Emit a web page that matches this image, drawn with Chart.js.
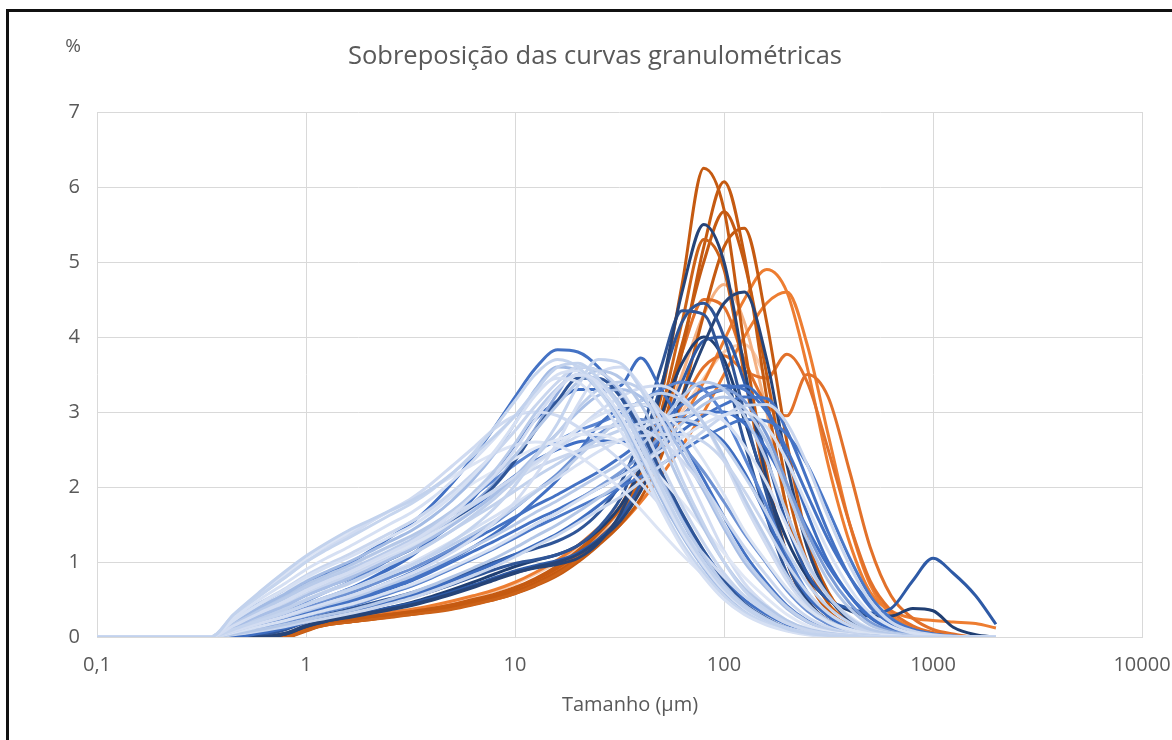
<!DOCTYPE html>
<html>
<head>
<meta charset="utf-8">
<script src="https://cdn.jsdelivr.net/npm/chart.js@4/dist/chart.umd.min.js"></script>
<style>
  html, body { margin: 0; padding: 0; background: #fff; overflow: hidden; }
  #frame { position: absolute; left: 6px; top: 9px; width: 1300px; height: 900px; border: 3px solid #111; }
  #wrap { position: absolute; left: 0; top: 0; width: 1172px; height: 740px; }
</style>
</head>
<body>
<div id="frame"></div>
<div id="wrap"><canvas id="granulo" width="1172" height="740"></canvas></div>
<script>
// particle size classes (µm)
const sizes = [0.1, 0.35, 0.45, 0.6, 0.8, 1, 1.25, 1.6, 2, 2.5, 3.2, 4, 5, 6.3, 8, 10, 12.5, 16, 20, 25,
  32, 40, 50, 63, 80, 100, 125, 160, 200, 250, 315, 400, 500, 630, 800, 1000, 1250, 1600, 2000];

const xTicks = [0.1, 1, 10, 100, 1000, 10000];

// orange samples (% per class)
const o1 = [0,0,0,0,0.04, 0.14,0.2,0.23,0.27,0.3, 0.34,0.38,0.43,0.5,0.57, 0.66,0.78,0.95,1.15,1.4, 1.75,2.3,3.2,4.7,6.25, 5.7,3.9,2.2,1.1,0.5, 0.22,0.1,0.04,0.02,0, 0,0,0,0];
const o2 = [0,0,0,0,0, 0.08,0.17,0.2,0.24,0.28, 0.31,0.35,0.4,0.46,0.53, 0.61,0.72,0.87,1.05,1.3, 1.6,2.0,2.7,3.8,5.2, 6.07,5.1,3.2,1.7,0.8, 0.35,0.15,0.06,0.02,0, 0,0,0,0];
const o3 = [0,0,0,0,0.03, 0.12,0.18,0.22,0.26,0.3, 0.33,0.37,0.42,0.48,0.56, 0.65,0.76,0.92,1.12,1.38, 1.72,2.2,2.9,3.9,5.0, 5.67,5.0,3.5,2.0,1.0, 0.45,0.2,0.08,0.03,0.01, 0,0,0,0];
const o4 = [0,0,0,0,0, 0.1,0.16,0.2,0.23,0.27, 0.3,0.34,0.38,0.44,0.5, 0.58,0.68,0.82,1.0,1.22, 1.5,1.85,2.4,3.2,4.3, 5.2,5.45,4.2,2.6,1.3, 0.6,0.25,0.1,0.04,0.01, 0,0,0,0];
const o5 = [0,0,0,0,0.05, 0.15,0.21,0.25,0.29,0.33, 0.37,0.42,0.48,0.55,0.63, 0.73,0.86,1.03,1.22,1.45, 1.72,2.05,2.45,2.9,3.4, 3.95,4.5,4.9,4.6,3.6, 2.3,1.25,0.6,0.35,0.25, 0.22,0.2,0.18,0.12];
const o6 = [0,0,0,0,0, 0.1,0.17,0.21,0.25,0.29, 0.33,0.37,0.42,0.48,0.55, 0.63,0.74,0.88,1.05,1.25, 1.5,1.8,2.15,2.55,3.0, 3.5,4.0,4.45,4.6,3.9, 2.7,1.5,0.7,0.3,0.12, 0.05,0.02,0,0];
const o7 = [0,0,0,0,0, 0.1,0.17,0.21,0.25,0.29, 0.33,0.37,0.42,0.48,0.55, 0.63,0.74,0.9,1.08,1.3, 1.6,2.0,2.5,3.1,3.6, 3.75,3.55,3.45,3.77,3.4, 2.5,1.5,0.75,0.35,0.15, 0.06,0.02,0,0];
const o8 = [0,0,0,0,0.03, 0.12,0.18,0.22,0.26,0.3, 0.34,0.38,0.43,0.49,0.56, 0.65,0.77,0.93,1.12,1.38, 1.72,2.2,2.9,3.8,4.5, 4.4,3.7,3.1,2.95,3.5, 3.2,2.2,1.2,0.55,0.25, 0.1,0.04,0,0];
const o9 = [0,0,0,0,0, 0.1,0.16,0.2,0.24,0.28, 0.32,0.36,0.41,0.47,0.54, 0.63,0.74,0.9,1.1,1.35, 1.7,2.15,2.75,3.5,4.3, 4.7,4.2,3.0,1.7,0.8, 0.35,0.15,0.06,0.02,0, 0,0,0,0];
const o10 = [0,0,0,0,0.03, 0.13,0.19,0.23,0.27,0.31, 0.35,0.4,0.46,0.53,0.61, 0.71,0.84,1.0,1.2,1.45, 1.75,2.1,2.55,3.0,3.45, 3.8,3.9,3.4,2.4,1.3, 0.6,0.25,0.1,0.04,0.01, 0,0,0,0];
const o11 = [0,0,0,0,0, 0.09,0.16,0.2,0.23,0.26, 0.3,0.33,0.37,0.43,0.5, 0.58,0.69,0.84,1.03,1.28, 1.62,2.15,3.0,4.2,5.3, 4.9,3.5,2.0,1.0,0.45, 0.2,0.08,0.03,0.01,0, 0,0,0,0];

// dark blue samples
const d1 = [0,0,0,0,0.05, 0.15,0.22,0.27,0.32,0.37, 0.43,0.5,0.58,0.67,0.77, 0.86,0.92,0.97,1.05,1.25, 1.65,2.3,3.3,4.6,5.5, 5.0,3.6,2.1,1.1,0.5, 0.22,0.1,0.04,0.01,0, 0,0,0,0];
const d2 = [0,0,0,0.02,0.1, 0.2,0.28,0.34,0.4,0.46, 0.53,0.61,0.7,0.8,0.9, 0.98,1.03,1.1,1.22,1.45, 1.85,2.5,3.35,4.2,4.45, 4.0,3.0,1.9,1.0,0.45, 0.2,0.08,0.03,0.01,0, 0,0,0,0];
const d3 = [0,0,0,0,0.04, 0.14,0.21,0.26,0.31,0.36, 0.42,0.49,0.57,0.66,0.76, 0.85,0.93,1.0,1.1,1.28, 1.55,1.95,2.5,3.2,3.9, 4.45,4.6,3.7,2.3,1.2, 0.55,0.22,0.08,0.03,0.01, 0,0,0,0];
const d4 = [0,0,0,0.03,0.12, 0.22,0.3,0.37,0.44,0.51, 0.59,0.68,0.78,0.89,1.0, 1.1,1.18,1.28,1.42,1.65, 2.05,2.7,3.6,4.35,4.3, 3.6,2.6,1.6,0.85,0.4, 0.18,0.07,0.03,0.01,0, 0,0,0,0];
const d5 = [0,0,0,0,0.05, 0.15,0.22,0.28,0.33,0.39, 0.45,0.52,0.6,0.69,0.79, 0.88,0.95,1.02,1.12,1.3, 1.6,2.05,2.7,3.4,3.95, 4.0,3.4,2.4,1.5,0.85, 0.5,0.38,0.32,0.38,0.75, 1.05,0.85,0.55,0.17];
const d6 = [0,0,0,0,0.04, 0.14,0.21,0.27,0.33,0.39, 0.46,0.54,0.63,0.73,0.84, 0.94,1.02,1.1,1.22,1.42, 1.75,2.25,2.95,3.65,4.0, 3.7,2.9,2.0,1.3,0.8, 0.5,0.35,0.28,0.28,0.38, 0.35,0.13,0.03,0];
const d7 = [0,0,0.15,0.3,0.44, 0.56,0.67,0.78,0.9,1.03, 1.17,1.33,1.52,1.75,2.02, 2.35,2.75,3.15,3.45,3.45, 3.2,2.75,2.2,1.65,1.15, 0.75,0.45,0.25,0.12,0.05, 0.02,0,0,0,0, 0,0,0,0];

// medium blue samples
const m1 = [0,0,0.1,0.2,0.3, 0.4,0.5,0.62,0.75,0.9, 1.08,1.3,1.55,1.85,2.2, 2.55,2.9,3.15,3.3,3.3, 3.35,3.72,3.3,2.9,2.8, 2.6,2.2,1.6,1.0,0.55, 0.28,0.12,0.05,0.02,0, 0,0,0,0];
const m2 = [0,0,0.25,0.45,0.6, 0.72,0.84,0.98,1.14,1.32, 1.52,1.76,2.05,2.4,2.8, 3.2,3.58,3.83,3.8,3.6, 3.2,2.7,2.15,1.6,1.15, 0.78,0.5,0.3,0.17,0.09, 0.04,0.02,0,0,0, 0,0,0,0];
const m3 = [0,0,0.08,0.18,0.27, 0.35,0.43,0.52,0.62,0.73, 0.86,1.0,1.15,1.3,1.45, 1.6,1.75,1.9,2.05,2.2, 2.4,2.6,2.85,3.1,3.3, 3.35,3.3,3.0,2.5,1.9, 1.3,0.8,0.45,0.22,0.1, 0.04,0.01,0,0];
const m4 = [0,0,0.06,0.15,0.23, 0.3,0.37,0.45,0.54,0.64, 0.75,0.87,1.0,1.14,1.28, 1.42,1.56,1.7,1.84,1.98, 2.15,2.33,2.53,2.75,2.95, 3.1,3.2,3.18,2.75,2.1, 1.4,0.8,0.4,0.18,0.07, 0.03,0.01,0,0];
const m5 = [0,0,0.1,0.22,0.33, 0.43,0.53,0.64,0.77,0.92, 1.1,1.3,1.5,1.72,1.95, 2.15,2.35,2.5,2.6,2.62, 2.6,2.65,2.78,2.9,3.0, 3.0,2.85,2.5,2.0,1.45, 0.95,0.55,0.28,0.12,0.05, 0.02,0,0,0];
const m6 = [0,0,0.12,0.25,0.37, 0.48,0.6,0.73,0.87,1.03, 1.22,1.43,1.65,1.88,2.1, 2.3,2.48,2.62,2.75,2.85, 2.98,3.15,3.3,3.4,3.3, 2.95,2.4,1.75,1.1,0.6, 0.28,0.12,0.05,0.02,0, 0,0,0,0];
const m7 = [0,0,0.05,0.12,0.2, 0.27,0.34,0.41,0.49,0.58, 0.68,0.79,0.91,1.04,1.18, 1.32,1.46,1.6,1.73,1.86, 2.0,2.14,2.3,2.48,2.66, 2.8,2.9,2.88,2.7,2.3, 1.7,1.05,0.55,0.25,0.1, 0.04,0.01,0,0];
const m8 = [0,0,0,0.05,0.12, 0.2,0.27,0.34,0.41,0.48, 0.56,0.65,0.75,0.86,0.98, 1.1,1.23,1.38,1.55,1.75, 2.0,2.3,2.65,2.95,3.2, 3.3,3.35,3.05,2.4,1.65, 1.0,0.55,0.26,0.11,0.04, 0.01,0,0,0];
const m9 = [0,0,0.06,0.15,0.24, 0.32,0.4,0.48,0.57,0.67, 0.78,0.9,1.04,1.2,1.38, 1.58,1.82,2.1,2.45,2.82, 3.05,3.1,2.95,2.6,2.1, 1.6,1.12,0.72,0.42,0.22, 0.1,0.04,0.01,0,0, 0,0,0,0];
const p1 = [0,0,0.12,0.28,0.43, 0.56,0.68,0.8,0.93,1.06, 1.2,1.36,1.55,1.78,2.05, 2.38,2.78,3.25,3.6,3.55, 3.25,2.75,2.15,1.55,1.05, 0.67,0.4,0.22,0.11,0.05, 0.02,0,0,0,0, 0,0,0,0];
const p2 = [0,0,0.05,0.13,0.21, 0.28,0.35,0.42,0.5,0.59, 0.69,0.8,0.92,1.05,1.19, 1.34,1.5,1.66,1.83,2.0, 2.2,2.42,2.68,2.95,3.2, 3.3,3.15,2.7,2.05,1.4, 0.85,0.45,0.2,0.08,0.03, 0.01,0,0,0];
const p3 = [0,0,0.1,0.2,0.3, 0.4,0.49,0.58,0.68,0.79, 0.91,1.04,1.18,1.34,1.52, 1.72,1.94,2.18,2.45,2.7, 2.85,2.9,2.8,2.55,2.2, 1.8,1.38,0.98,0.62,0.35, 0.17,0.07,0.03,0.01,0, 0,0,0,0];

// light blue samples
const l1 = [0,0,0.3,0.6,0.88, 1.08,1.25,1.42,1.55,1.68, 1.82,1.98,2.18,2.42,2.68, 2.95,3.28,3.6,3.65,3.45, 3.05,2.55,2.0,1.45,1.0, 0.65,0.4,0.22,0.11,0.05, 0.02,0.01,0,0,0, 0,0,0,0];
const l2 = [0,0,0.22,0.45,0.65, 0.82,0.96,1.1,1.24,1.38, 1.54,1.72,1.93,2.18,2.45, 2.75,3.08,3.4,3.6,3.55, 3.3,2.85,2.3,1.75,1.25, 0.85,0.55,0.33,0.18,0.09, 0.04,0.02,0,0,0, 0,0,0,0];
const l3 = [0,0,0.18,0.38,0.55, 0.7,0.82,0.95,1.08,1.21, 1.35,1.5,1.68,1.9,2.15, 2.42,2.75,3.1,3.4,3.55, 3.45,3.1,2.6,2.0,1.45, 1.0,0.65,0.4,0.22,0.11, 0.05,0.02,0.01,0,0, 0,0,0,0];
const l4 = [0,0,0.25,0.5,0.72, 0.9,1.05,1.2,1.35,1.5, 1.66,1.85,2.08,2.35,2.65, 2.95,3.25,3.45,3.4,3.15, 2.75,2.25,1.7,1.2,0.8, 0.5,0.3,0.16,0.08,0.03, 0.01,0,0,0,0, 0,0,0,0];
const l5 = [0,0,0.12,0.28,0.42, 0.55,0.66,0.78,0.9,1.03, 1.17,1.32,1.49,1.68,1.9, 2.14,2.42,2.72,3.0,3.22, 3.3,3.2,2.9,2.45,1.95, 1.45,1.0,0.65,0.38,0.2, 0.1,0.04,0.02,0,0, 0,0,0,0];
const l6 = [0,0,0.15,0.32,0.48, 0.62,0.74,0.86,0.98,1.1, 1.23,1.37,1.52,1.69,1.88, 2.08,2.3,2.55,2.78,2.95, 3.07,3.1,3.0,2.75,2.35, 1.9,1.42,1.0,0.65,0.38, 0.2,0.1,0.04,0.02,0, 0,0,0,0];
const l7 = [0,0,0.1,0.22,0.33, 0.43,0.52,0.62,0.72,0.83, 0.96,1.1,1.27,1.47,1.72, 2.02,2.4,2.85,3.35,3.7, 3.65,3.3,2.75,2.1,1.5, 1.0,0.62,0.36,0.19,0.09, 0.04,0.01,0,0,0, 0,0,0,0];
const l8 = [0,0,0.28,0.55,0.8, 1.0,1.18,1.35,1.52,1.68, 1.85,2.05,2.28,2.52,2.78, 2.95,3.0,2.95,2.8,2.6, 2.35,2.05,1.75,1.42,1.1, 0.8,0.55,0.35,0.2,0.1, 0.05,0.02,0,0,0, 0,0,0,0];
const l9 = [0,0,0.08,0.18,0.27, 0.35,0.43,0.51,0.6,0.7, 0.81,0.93,1.06,1.2,1.35, 1.5,1.66,1.82,1.98,2.14, 2.32,2.55,2.85,3.2,3.4, 3.3,2.95,2.35,1.65,1.0, 0.55,0.25,0.1,0.04,0.01, 0,0,0,0];
const l10 = [0,0,0.06,0.14,0.22, 0.29,0.36,0.43,0.51,0.6, 0.7,0.81,0.93,1.06,1.2, 1.35,1.5,1.66,1.82,1.98, 2.14,2.3,2.48,2.66,2.84, 2.96,3.0,2.8,2.35,1.75, 1.15,0.65,0.32,0.14,0.05, 0.02,0,0,0];
const l11 = [0,0,0.15,0.3,0.45, 0.58,0.7,0.83,0.96,1.1, 1.25,1.41,1.58,1.76,1.94, 2.1,2.25,2.38,2.48,2.56, 2.63,2.68,2.7,2.7,2.6, 2.35,1.95,1.45,0.98,0.6, 0.32,0.15,0.06,0.02,0, 0,0,0,0];
const l12 = [0,0,0.2,0.4,0.58, 0.74,0.87,1.0,1.13,1.27, 1.42,1.6,1.82,2.1,2.45, 2.85,3.3,3.6,3.55,3.3, 2.9,2.4,1.85,1.35,0.92, 0.58,0.34,0.18,0.09,0.04, 0.01,0,0,0,0, 0,0,0,0];
const l13 = [0,0,0.2,0.4,0.6, 0.78,0.93,1.08,1.23,1.38, 1.54,1.7,1.87,2.05,2.22, 2.38,2.52,2.63,2.7,2.7, 2.6,2.4,2.12,1.8,1.45, 1.12,0.8,0.52,0.3,0.15, 0.07,0.03,0.01,0,0, 0,0,0,0];
const l14 = [0,0,0.1,0.22,0.33, 0.43,0.53,0.63,0.73,0.84, 0.96,1.09,1.23,1.38,1.55, 1.73,1.93,2.15,2.4,2.65, 2.92,3.15,3.25,3.15,2.85, 2.4,1.85,1.3,0.82,0.45, 0.22,0.1,0.04,0.01,0, 0,0,0,0];
const l15 = [0,0,0.15,0.32,0.48, 0.62,0.74,0.86,0.99,1.12, 1.27,1.44,1.64,1.88,2.16, 2.5,2.9,3.3,3.5,3.4, 3.05,2.55,1.98,1.45,1.0, 0.65,0.4,0.22,0.11,0.05, 0.02,0,0,0,0, 0,0,0,0];
const l16 = [0,0,0.28,0.55,0.8, 1.0,1.16,1.32,1.47,1.62, 1.78,1.96,2.18,2.45,2.8, 3.15,3.5,3.7,3.6,3.3, 2.85,2.3,1.75,1.25,0.85, 0.55,0.33,0.18,0.09,0.04, 0.01,0,0,0,0, 0,0,0,0];
const l17 = [0,0,0.1,0.24,0.37, 0.49,0.6,0.71,0.83,0.96, 1.1,1.25,1.42,1.62,1.85, 2.1,2.4,2.72,3.05,3.3, 3.4,3.3,3.0,2.55,2.0, 1.5,1.05,0.68,0.4,0.21, 0.1,0.04,0.01,0,0, 0,0,0,0];
const l18 = [0,0,0.12,0.26,0.39, 0.5,0.61,0.72,0.84,0.97, 1.11,1.26,1.42,1.59,1.77, 1.95,2.13,2.31,2.48,2.63, 2.76,2.85,2.9,2.9,2.8, 2.55,2.15,1.65,1.15,0.72, 0.4,0.19,0.08,0.03,0.01, 0,0,0,0];
const l19 = [0,0,0.22,0.44,0.64, 0.8,0.93,1.06,1.19,1.33, 1.48,1.66,1.88,2.15,2.48, 2.85,3.22,3.5,3.55,3.35, 2.95,2.45,1.9,1.38,0.95, 0.62,0.38,0.21,0.1,0.04, 0.01,0,0,0,0, 0,0,0,0];
const l20 = [0,0,0.04,0.1,0.17, 0.23,0.29,0.35,0.42,0.5, 0.59,0.69,0.8,0.92,1.05, 1.19,1.34,1.5,1.67,1.85, 2.05,2.28,2.55,2.85,3.1, 3.2,3.05,2.6,1.95,1.3, 0.75,0.38,0.16,0.06,0.02, 0,0,0,0];
const l21 = [0,0,0.18,0.36,0.53, 0.68,0.81,0.94,1.07,1.2, 1.34,1.48,1.63,1.79,1.96, 2.14,2.33,2.52,2.68,2.78, 2.82,2.78,2.62,2.35,2.0, 1.6,1.2,0.82,0.5,0.27, 0.13,0.05,0.02,0,0, 0,0,0,0];
const l22 = [0,0,0.08,0.18,0.28, 0.37,0.45,0.54,0.63,0.73, 0.85,0.98,1.13,1.31,1.53, 1.8,2.15,2.6,3.1,3.5, 3.6,3.35,2.9,2.3,1.7, 1.15,0.72,0.42,0.22,0.1, 0.04,0.01,0,0,0, 0,0,0,0];
const l23 = [0,0,0.3,0.58,0.84, 1.05,1.22,1.38,1.53,1.67, 1.82,1.98,2.14,2.3,2.45, 2.56,2.6,2.55,2.42,2.22, 1.98,1.7,1.4,1.1,0.82, 0.57,0.37,0.22,0.12,0.06, 0.02,0.01,0,0,0, 0,0,0,0];
const l24 = [0,0,0.03,0.08,0.14, 0.2,0.25,0.31,0.37,0.44, 0.52,0.61,0.71,0.82,0.94, 1.07,1.21,1.36,1.52,1.69, 1.87,2.07,2.29,2.52,2.75, 2.95,3.08,3.1,2.85,2.3, 1.6,0.95,0.48,0.2,0.08, 0.03,0.01,0,0];
const l25 = [0,0,0.14,0.3,0.44, 0.57,0.69,0.81,0.93,1.06, 1.2,1.35,1.51,1.69,1.88, 2.08,2.3,2.53,2.77,3.0, 3.2,3.32,3.35,3.2,2.85, 2.35,1.78,1.22,0.75,0.41, 0.2,0.08,0.03,0.01,0, 0,0,0,0];
const l26 = [0,0,0.17,0.35,0.52, 0.66,0.78,0.9,1.02,1.15, 1.3,1.47,1.67,1.92,2.22, 2.58,2.98,3.32,3.5,3.42, 3.1,2.62,2.08,1.55,1.08, 0.7,0.43,0.24,0.12,0.05, 0.02,0,0,0,0, 0,0,0,0];
const l27 = [0,0,0.1,0.22,0.33, 0.43,0.53,0.63,0.74,0.86, 0.99,1.13,1.28,1.44,1.61, 1.78,1.95,2.12,2.3,2.47, 2.63,2.78,2.9,2.98,3.0, 2.88,2.55,2.05,1.48,0.95, 0.54,0.27,0.11,0.04,0.01, 0,0,0,0];

// drawing order: first = bottom, last = top
const curves = [
  [o10,'#F8CBAD'], [o9,'#F4B183'], [o6,'#ED7D31'], [o5,'#ED7D31'], [o7,'#E2712A'], [o8,'#E2712A'],
  [o4,'#C55A11'], [o3,'#C55A11'], [o2,'#C55A11'], [o11,'#CC6218'], [o1,'#C55A11'],
  [d6,'#203F73'], [d5,'#2E5AA6'], [d4,'#2F5597'], [d3,'#264478'], [d2,'#2F5597'], [d1,'#264478'],
  [m8,'#3E6DC0'], [m7,'#4A78C8'], [m5,'#3F6FC5'], [m4,'#4472C4'], [m3,'#4472C4'], [m6,'#5B86D2'], [m9,'#4472C4'], [m1,'#3E6DC0'], [m2,'#4472C4'],
  [p2,'#7A9BD6'], [p3,'#6E92D3'], [p1,'#8FAADC'], [d7,'#2F5597'],
  [l24,'#C9D6EE'], [l20,'#B4C7E7'], [l27,'#D6E0F3'], [l18,'#C2D2ED'], [l25,'#D0DBF1'],
  [l10,'#D6E0F3'], [l9,'#B8CAE9'], [l14,'#BCCDEA'], [l11,'#C9D6EE'], [l6,'#DAE3F3'], [l5,'#A9BFE6'],
  [l21,'#CCD8EF'], [l17,'#BFCFEB'], [l22,'#D3DDF2'], [l23,'#DCE4F4'],
  [l13,'#E0E7F5'], [l8,'#D0DBF1'], [l3,'#B4C7E7'], [l7,'#C5D4EE'], [l12,'#A3BBE4'], [l2,'#C9D6EE'],
  [l26,'#B9CBEA'], [l19,'#D6E0F3'], [l16,'#C6D5EE'],
  [l15,'#D3DDF2'], [l4,'#D6E0F3'], [l1,'#C2D2ED']
];

const FONT = "'Open Sans', 'Noto Sans', sans-serif";
const GREY = '#595959';
const GRID = '#D9D9D9';

const datasets = curves.map(([vals, color], i) => ({
  data: sizes.map((s, k) => ({ x: s, y: vals[k] })),
  borderColor: color,
  borderWidth: 3,
  pointRadius: 0,
  fill: false,
  cubicInterpolationMode: 'monotone',
  order: curves.length - i
}));

// title, "%" label and axis title
const textPlugin = {
  id: 'texts',
  afterDraw(chart) {
    const c = chart.ctx;
    c.save();
    c.fillStyle = GREY;
    c.textAlign = 'center';
    c.textBaseline = 'middle';
    c.font = "25.5px " + FONT;
    c.fillText('Sobreposição das curvas granulométricas', 595, 57);
    c.font = "19px " + FONT;
    c.fillText('%', 73, 47);
    c.font = "20px " + FONT;
    c.fillText('Tamanho (µm)', 630, 705);
    c.restore();
  }
};

new Chart(document.getElementById('granulo'), {
  type: 'line',
  data: { datasets: datasets },
  options: {
    responsive: false,
    animation: false,
    layout: { padding: { top: 112, right: 30, left: 0, bottom: 0 } },
    plugins: { legend: { display: false }, tooltip: { enabled: false }, title: { display: false } },
    scales: {
      x: {
        type: 'logarithmic',
        min: 0.1,
        max: 10000,
        afterBuildTicks: (scale) => { scale.ticks = xTicks.map(v => ({ value: v })); },
        afterFit: (scale) => { scale.height = 103; scale.paddingLeft = 0; scale.paddingRight = 0; },
        ticks: {
          autoSkip: false,
          maxRotation: 0,
          color: GREY,
          padding: 16,
          font: { family: FONT, size: 20 },
          callback: (v) => String(v).replace('.', ',')
        },
        grid: { color: GRID, drawTicks: false },
        border: { color: GRID }
      },
      y: {
        min: 0,
        max: 7,
        afterFit: (scale) => { scale.width = 97; },
        ticks: { stepSize: 1, color: GREY, padding: 17, font: { family: FONT, size: 20 } },
        grid: { color: GRID, drawTicks: false },
        border: { display: false }
      }
    }
  },
  plugins: [textPlugin]
});
</script>
</body>
</html>
